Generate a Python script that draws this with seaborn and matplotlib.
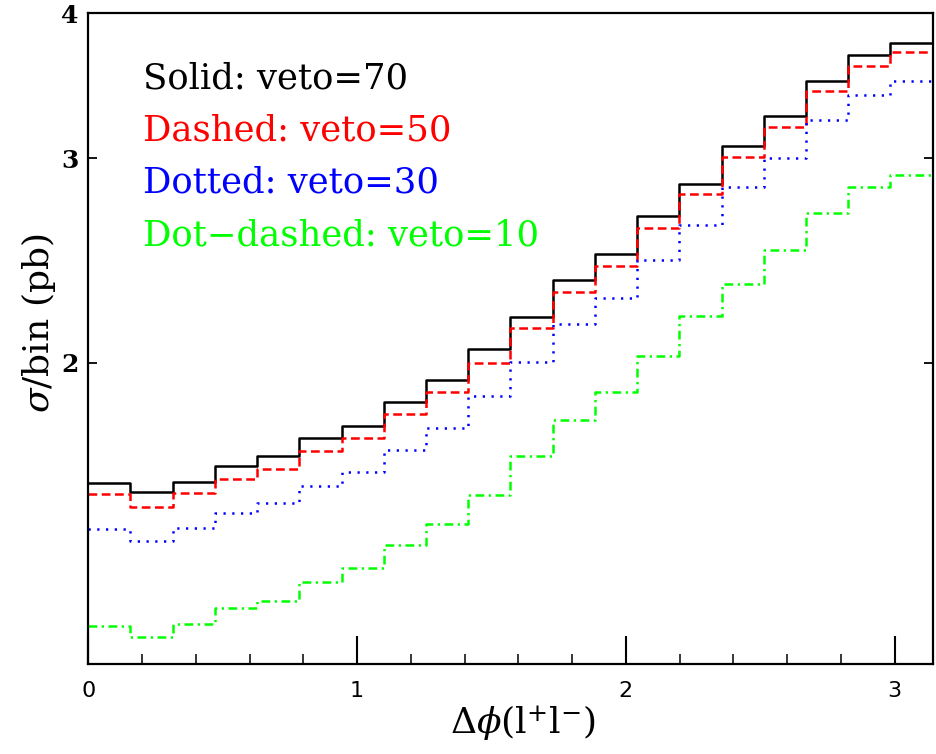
import numpy as np
import pandas as pd
import matplotlib
matplotlib.use("Agg")
import matplotlib.pyplot as plt
import seaborn as sns
from matplotlib.ticker import FixedLocator, NullLocator

# Delta-phi binning: 20 equal bins on [0, pi]
n_bins = 20
edges = np.linspace(0.0, np.pi, n_bins + 1)

# cross section per bin (pb) for each jet-veto threshold
veto70 = [1.576, 1.547, 1.579, 1.630, 1.663, 1.721, 1.765, 1.851, 1.933, 2.054,
          2.189, 2.357, 2.481, 2.677, 2.849, 3.072, 3.263, 3.495, 3.682, 3.773]
veto50 = [1.540, 1.503, 1.543, 1.588, 1.620, 1.678, 1.722, 1.808, 1.886, 1.999,
          2.141, 2.302, 2.424, 2.614, 2.795, 3.008, 3.194, 3.430, 3.603, 3.702]
veto30 = [1.437, 1.404, 1.442, 1.484, 1.514, 1.565, 1.609, 1.681, 1.756, 1.873,
          2.004, 2.158, 2.274, 2.453, 2.628, 2.836, 3.004, 3.237, 3.401, 3.497]
veto10 = [1.186, 1.160, 1.190, 1.230, 1.247, 1.295, 1.332, 1.392, 1.451, 1.538,
          1.662, 1.786, 1.886, 2.027, 2.194, 2.338, 2.501, 2.693, 2.832, 2.902]

labels = ["Solid: veto=70", "Dashed: veto=50", "Dotted: veto=30", "Dot\u2212dashed: veto=10"]
series = [veto70, veto50, veto30, veto10]
colors = ["black", "#ff0000", "#0000ff", "#00ff00"]
styles = ["-", (0, (3.5, 1.8)), (0, (0.9, 2.6)), (0, (3.5, 1.8, 0.9, 1.8))]

x_ticks = [0, 1, 2, 3]
y_ticks = [2, 3, 4]

sns.set_theme(style="white")
plt.rcParams["font.family"] = ["DejaVu Sans"]

fig = plt.figure(figsize=(9.37, 7.54), dpi=100)
ax = fig.add_axes([0.0942, 0.1194, 0.9012, 0.8630])

for vals, col, ls in zip(series, colors, styles):
    df = pd.DataFrame({"x": edges, "y": list(vals) + [vals[-1]]})
    sns.lineplot(data=df, x="x", y="y", ax=ax, color=col, linestyle=ls,
                 linewidth=1.8, drawstyle="steps-post", sort=False,
                 estimator=None)

ax.set_yscale("log")
ax.set_xlim(0, np.pi)
ax.set_ylim(1.1, 4.0)

ax.xaxis.set_major_locator(FixedLocator(x_ticks))
ax.xaxis.set_minor_locator(FixedLocator(
    [v for v in np.arange(0.2, 3.15, 0.2) if abs(v - round(v)) > 1e-6]))
ax.set_xticklabels([str(t) for t in x_ticks])
ax.yaxis.set_major_locator(FixedLocator(y_ticks))
ax.yaxis.set_minor_locator(NullLocator())
ax.set_yticklabels([str(t) for t in y_ticks])

ax.tick_params(axis="x", which="major", direction="in", length=20, width=1.5,
               bottom=True, top=False, pad=12, labelsize=16, colors="black")
ax.tick_params(axis="x", which="minor", direction="in", length=7, width=1.3,
               bottom=True, top=False)
ax.tick_params(axis="y", which="major", direction="in", length=6.5, width=1.3,
               left=True, right=True, pad=7, labelsize=18, colors="black")
for lab in ax.get_yticklabels():
    lab.set_fontfamily("DejaVu Serif")
    lab.set_fontweight("bold")

for sp in ax.spines.values():
    sp.set_color("black")
    sp.set_linewidth(1.6)

ax.set_xlabel(r"$\Delta\phi(\mathrm{l}^{+}\mathrm{l}^{-})$", fontsize=26,
              math_fontfamily="dejavuserif", color="black")
ax.xaxis.set_label_coords(0.515, -0.060)
ax.set_ylabel(r"$\sigma$/bin (pb)", fontsize=26, family="DejaVu Serif",
              math_fontfamily="dejavuserif", color="black")
ax.yaxis.set_label_coords(-0.036, 0.524)

for i, (txt, col) in enumerate(zip(labels, colors)):
    ax.text(0.065, 0.885 - i * 0.0806, txt, transform=ax.transAxes,
            color=col, fontsize=25.5, family="DejaVu Serif",
            ha="left", va="baseline")

fig.savefig("out.png", dpi=100, facecolor="white")
